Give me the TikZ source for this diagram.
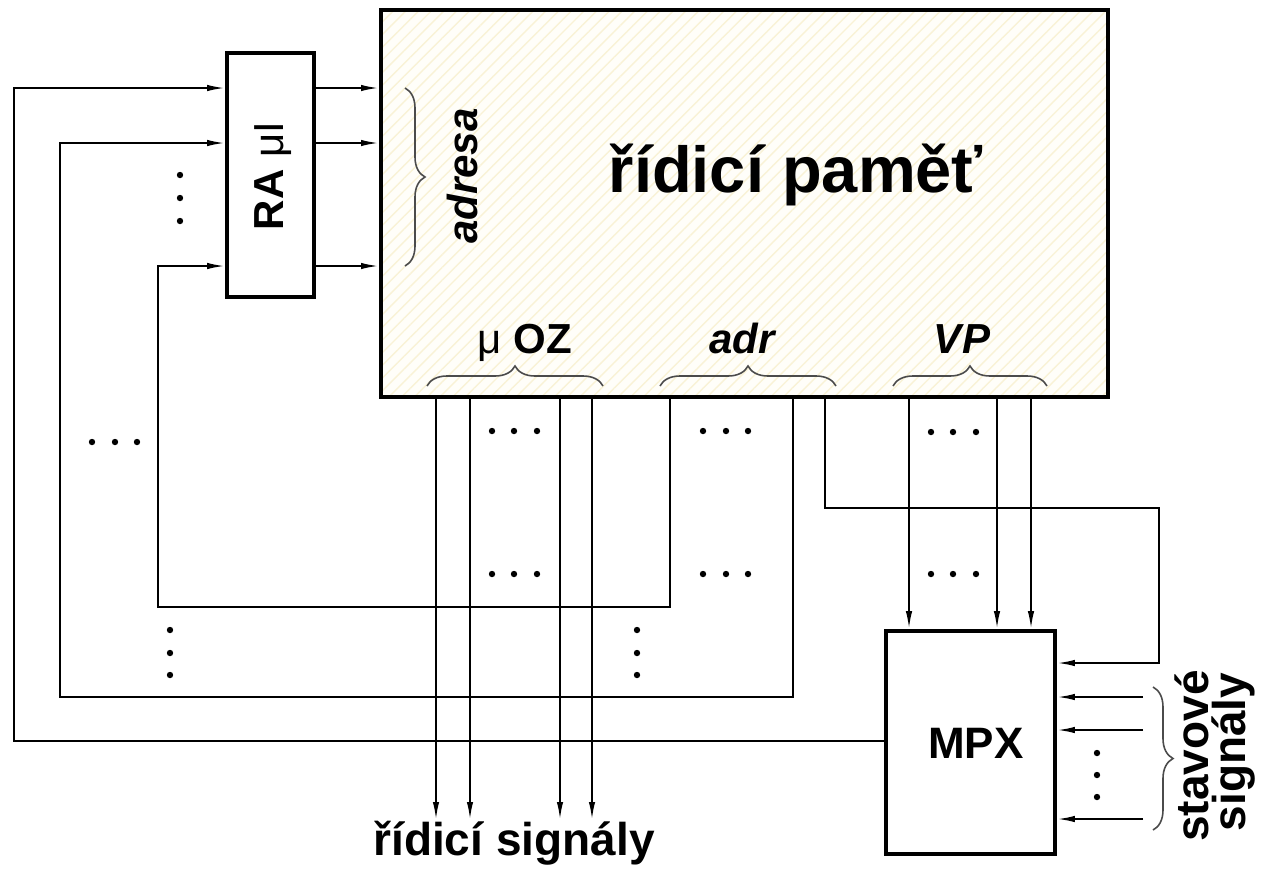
\documentclass[tikz,border=0pt]{standalone}
\usepackage{fontspec}
\setmainfont{Liberation Sans}
\usetikzlibrary{arrows.meta,patterns.meta,decorations.pathreplacing}
\definecolor{hatch}{RGB}{249,242,214}
\definecolor{cream}{RGB}{255,254,249}
\definecolor{bracegray}{RGB}{75,75,75}
\begin{document}
\begin{tikzpicture}[x=0.5pt,y=-0.5pt,
  wire/.style={line width=1pt},
  arr/.style={wire,-{Latex[length=9pt,width=3.2pt]}},
  box/.style={draw,line width=1.8pt,inner sep=0pt},
  brc/.style={decorate,decoration={brace,amplitude=10pt},line width=0.8pt,draw=bracegray},
  lbl/.style={font=\bfseries\fontsize{21}{24}\selectfont},
  ilbl/.style={font=\bfseries\itshape\fontsize{21}{24}\selectfont},
  big/.style={font=\bfseries\fontsize{23}{26}\selectfont}
]
\useasboundingbox (0,0) rectangle (1265,875);

% boxes
\node[box,line width=2pt,minimum width=363.5pt,minimum height=193.5pt,
      preaction={fill=cream},
      preaction={pattern={Lines[angle=45,distance=4.5pt,line width=0.7pt]},pattern color=hatch}]
      (mem) at (744.5,203.5) {};
\node[box,minimum width=43.5pt,minimum height=122pt] (ra) at (270.5,175) {};
\node[box,minimum width=84.5pt,minimum height=111.5pt] (mpx) at (970.5,742.5) {};

% texts
\node[anchor=base,font=\bfseries\fontsize{32.5}{36}\selectfont] (title) at (796,192) {řídicí paměť};
\node[lbl,rotate=90,anchor=base] (ratext) at (283,176) {RA {\mdseries μI}};
\node[ilbl,rotate=90,anchor=base] (adresa) at (477,176) {adresa};
\node[lbl,anchor=base] (oz) at (525,353) {{\mdseries μ} OZ};
\node[ilbl,anchor=base] (adr) at (742,353) {adr};
\node[ilbl,anchor=base] (vp) at (962,353) {VP};
\node[lbl,font=\bfseries\fontsize{22}{24}\selectfont,anchor=base] (mpxt) at (976,758) {MPX};
\node[big,rotate=90,anchor=base] (stav) at (1208,756) {stavové};
\node[big,rotate=90,anchor=base] (sig) at (1245,752) {signály};
\node[big,anchor=base] (ctrl) at (514,855) {řídicí signály};

% braces
\draw[brc] (427,386) -- (603,386);
\draw[brc] (660,386) -- (836,386);
\draw[brc] (893,386) -- (1047,386);
\draw[brc] (405,88) -- (405,266);
\draw[brc] (1153,687) -- (1153,830);

% RA -> memory
\foreach \y in {88,143,266}
  \draw[arr] (ra.east |- 0,\y) -- (mem.west |- 0,\y);

% feedback loops
\draw[arr] (mpx.west |- 0,741) -- (14,741) -- (14,88) -- (ra.west |- 0,88);
\draw[arr] (mem.south -| 793,0) -- (793,697) -- (60,697) -- (60,143) -- (ra.west |- 0,143);
\draw[arr] (mem.south -| 670,0) -- (670,607) -- (158,607) -- (158,266) -- (ra.west |- 0,266);

% control signals
\foreach \x in {436,470,560,592}
  \draw[arr] (mem.south -| \x,0) -- (\x,820);

% VP -> MPX
\foreach \x in {909,997,1031}
  \draw[arr] (mem.south -| \x,0) -- (mpx.north -| \x,0);
\draw[arr] (mem.south -| 825,0) -- (825,508) -- (1159,508) -- (1159,663) -- (mpx.east |- 0,663);

% status inputs
\foreach \y in {697,730,819}
  \draw[arr] (1143,\y) -- (mpx.east |- 0,\y);

% dots
\foreach \p in {
  {92,442},{115,442},{137,442},
  {492,431},{514,431},{537,431},
  {703,431},{726,431},{748,431},
  {931,432},{953,432},{976,432},
  {492,574},{514,574},{537,574},
  {703,574},{726,574},{748,574},
  {931,574},{953,574},{976,574},
  {180,175},{180,198},{180,221},
  {170,630},{170,653},{170,675},
  {637,630},{637,653},{637,675},
  {1097,753},{1097,775},{1097,797}}
  \fill (\p) circle[radius=1.6pt];
\end{tikzpicture}
\end{document}
